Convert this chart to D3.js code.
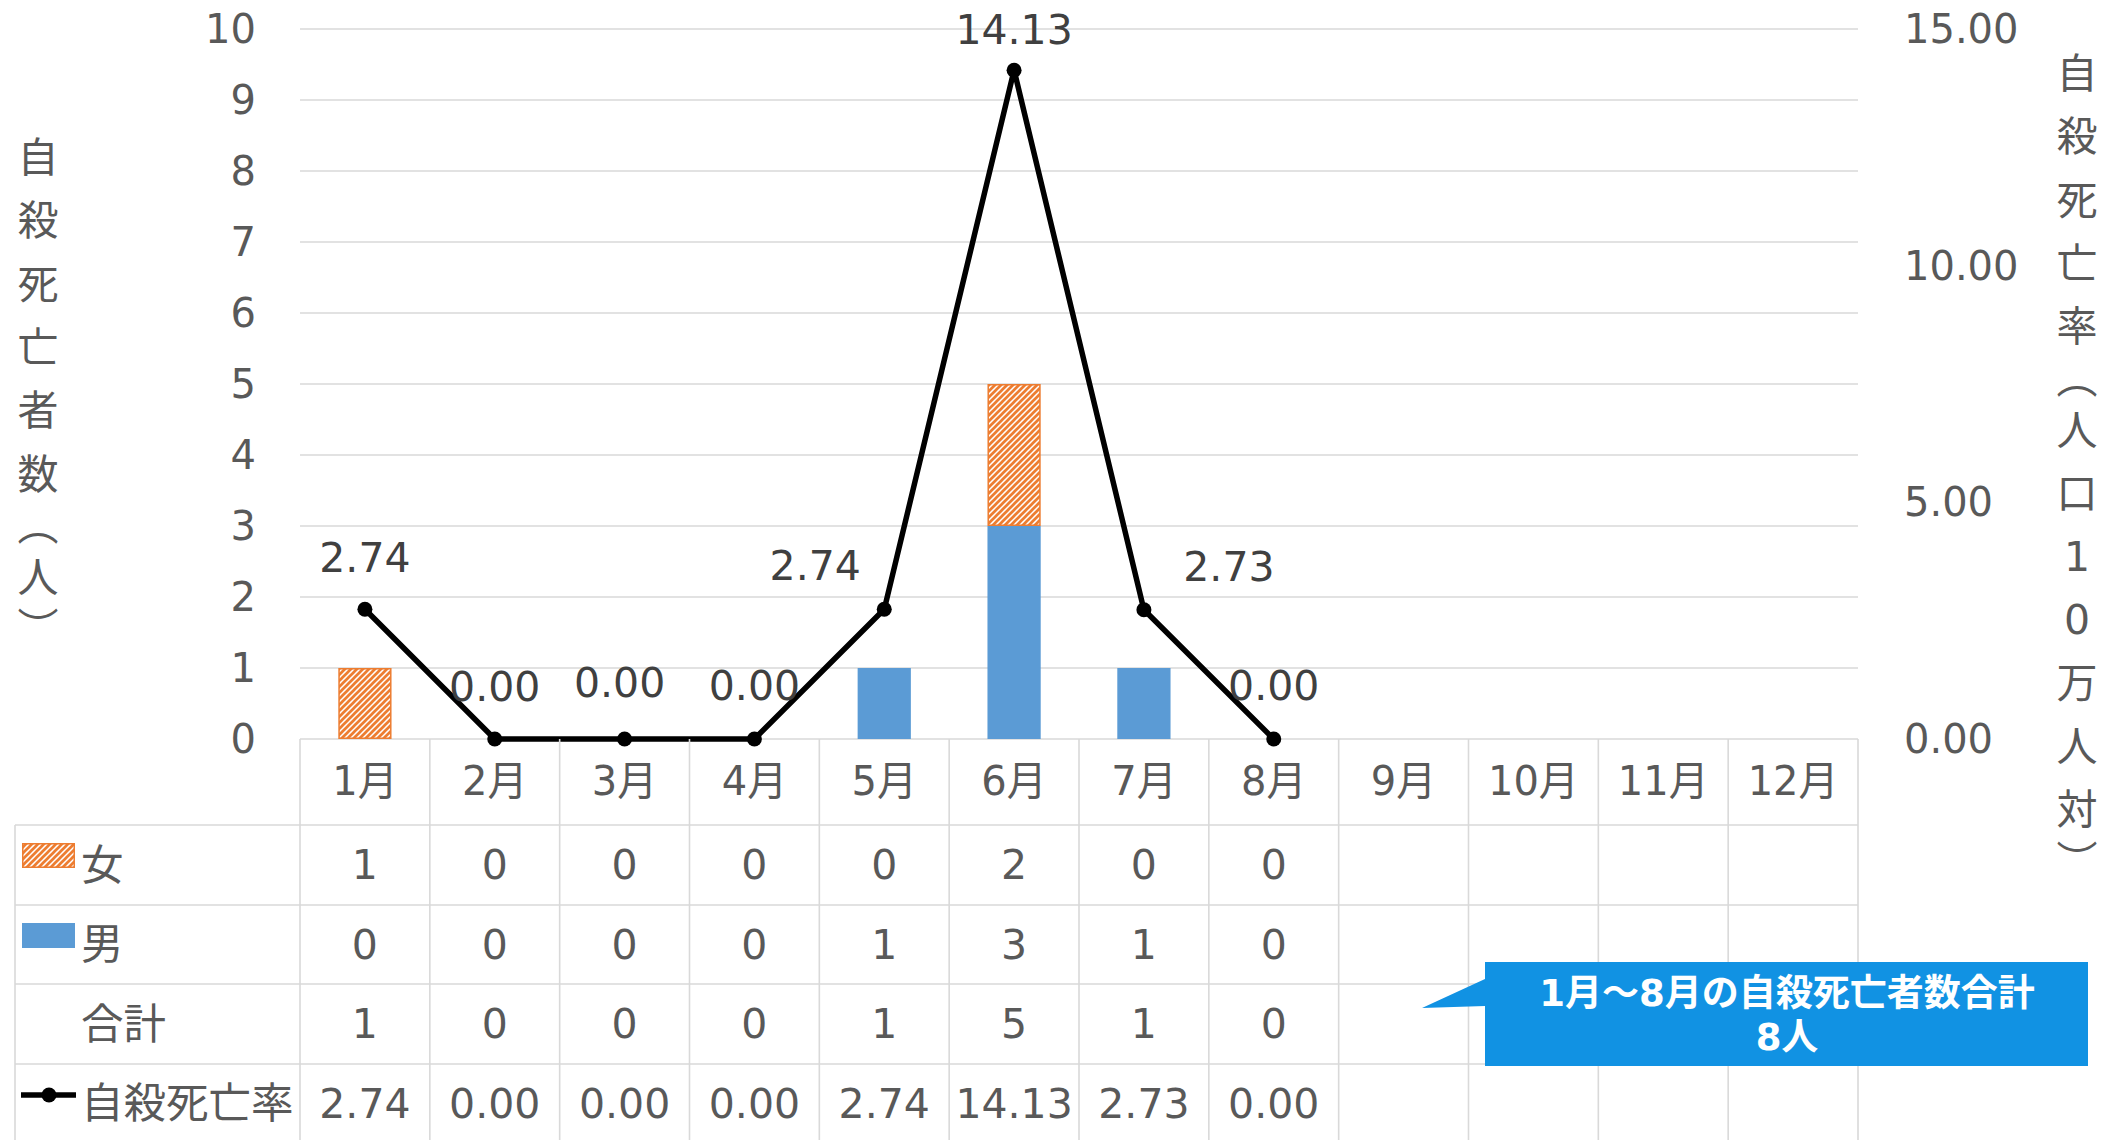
<!DOCTYPE html>
<html>
<head>
<meta charset="utf-8">
<script src="https://cdn.jsdelivr.net/npm/d3@7"></script>
<style>
  body { margin: 0; background: #fff; }
  svg { display: block; font-family: "DejaVu Sans", "Noto Sans CJK JP", sans-serif; }
</style>
</head>
<body>
<svg id="chart" width="2113" height="1140"></svg>
<script>
// data
const months = ["1月", "2月", "3月", "4月", "5月", "6月", "7月", "8月", "9月", "10月", "11月", "12月"];
const female = [1, 0, 0, 0, 0, 2, 0, 0, null, null, null, null];
const male = [0, 0, 0, 0, 1, 3, 1, 0, null, null, null, null];
const total = [1, 0, 0, 0, 1, 5, 1, 0, null, null, null, null];
const rate = [2.74, 0.00, 0.00, 0.00, 2.74, 14.13, 2.73, 0.00, null, null, null, null];
const leftTicks = [0, 1, 2, 3, 4, 5, 6, 7, 8, 9, 10];
const rightTicks = [0, 5, 10, 15];
const leftTitle = ["自", "殺", "死", "亡", "者", "数", "︵", "人", "︶"];
const rightTitle = ["自", "殺", "死", "亡", "率", "︵", "人", "口", "1", "0", "万", "人", "対", "︶"];
const calloutLines = ["1月～8月の自殺死亡者数合計", "8人"];

// label nudges (px) for the rate data labels, as moved in the original
const labelShift = [[0, -51], [0, -52], [-5, -56], [0, -53], [-69, -43], [0, -40], [85, -43], [0, -53]];

const orange = "#ED7D31", blue = "#5B9BD5", grid = "#D9D9D9";
const axisText = "#595959", labelText = "#404040";

const svg = d3.select("#chart");
const plotL = 300, plotR = 1858, plotT = 29, plotB = 739;

const x = d3.scaleBand().domain(months).range([plotL, plotR]);
const yL = d3.scaleLinear().domain([0, 10]).range([plotB, plotT]);
const yR = d3.scaleLinear().domain([0, 15]).range([plotB, plotT]);
const barW = x.bandwidth() * 0.41;

// hatch pattern for 女
const defs = svg.append("defs");
const pat = defs.append("pattern")
  .attr("id", "hatch").attr("patternUnits", "userSpaceOnUse")
  .attr("width", 6).attr("height", 6);
pat.append("rect").attr("width", 6).attr("height", 6).attr("fill", "#fff");
pat.append("path")
  .attr("d", "M-1,1 l2,-2 M0,6 l6,-6 M5,7 l2,-2")
  .attr("stroke", orange).attr("stroke-width", 2.7);

// gridlines
svg.append("g").selectAll("line")
  .data(leftTicks)
  .join("line")
  .attr("x1", plotL).attr("x2", plotR)
  .attr("y1", d => yL(d)).attr("y2", d => yL(d))
  .attr("stroke", grid).attr("stroke-width", 1.6);

// left axis labels
svg.append("g").selectAll("text")
  .data(leftTicks)
  .join("text")
  .attr("x", 256).attr("y", d => yL(d))
  .attr("text-anchor", "end").attr("dominant-baseline", "central")
  .attr("font-size", 40).attr("fill", axisText)
  .text(d => d);

// right axis labels
svg.append("g").selectAll("text")
  .data(rightTicks)
  .join("text")
  .attr("x", 1904).attr("y", d => yR(d))
  .attr("text-anchor", "start").attr("dominant-baseline", "central")
  .attr("font-size", 40).attr("fill", axisText)
  .text(d => d.toFixed(2));

// stacked vertical axis titles (one character per line, parens take a short cell)
function stackedTitle(chars, cx, startY) {
  const full = 63.3, paren = 40;
  let y = startY, prev = null;
  const pos = chars.map(c => {
    const h = (c === "︵" || c === "︶") ? paren : full;
    if (prev !== null) y += (prev + h) / 2;
    prev = h;
    return { c, y };
  });
  svg.append("g").selectAll("text")
    .data(pos)
    .join("text")
    .attr("x", cx).attr("y", d => d.y)
    .attr("text-anchor", "middle").attr("dominant-baseline", "central")
    .attr("font-size", 41).attr("fill", axisText)
    .text(d => d.c);
}
stackedTitle(leftTitle, 38, 158);
stackedTitle(rightTitle, 2077, 74);

// bars: 男 on the bottom, 女 stacked on top
const bars = svg.append("g");
months.forEach((m, i) => {
  const cx = x(m) + x.bandwidth() / 2;
  if (male[i]) {
    bars.append("rect")
      .attr("x", cx - barW / 2).attr("width", barW)
      .attr("y", yL(male[i])).attr("height", yL(0) - yL(male[i]))
      .attr("fill", blue);
  }
  if (female[i]) {
    const base = male[i] || 0;
    bars.append("rect")
      .attr("x", cx - barW / 2 + 0.75).attr("width", barW - 1.5)
      .attr("y", yL(base + female[i]) + 0.75).attr("height", yL(base) - yL(base + female[i]) - 1.5)
      .attr("fill", "url(#hatch)").attr("stroke", orange).attr("stroke-width", 1.5);
  }
});

// rate line
const pts = months.map((m, i) => ({ m, v: rate[i], i })).filter(d => d.v !== null);
const line = d3.line()
  .x(d => x(d.m) + x.bandwidth() / 2)
  .y(d => yR(d.v));
svg.append("path")
  .datum(pts)
  .attr("d", line)
  .attr("fill", "none").attr("stroke", "#000").attr("stroke-width", 5.5)
  .attr("stroke-linejoin", "round");
svg.append("g").selectAll("circle")
  .data(pts)
  .join("circle")
  .attr("cx", d => x(d.m) + x.bandwidth() / 2)
  .attr("cy", d => yR(d.v))
  .attr("r", 7.5).attr("fill", "#000");

// rate data labels
svg.append("g").selectAll("text")
  .data(pts)
  .join("text")
  .attr("x", d => x(d.m) + x.bandwidth() / 2 + labelShift[d.i][0])
  .attr("y", d => yR(d.v) + labelShift[d.i][1])
  .attr("text-anchor", "middle").attr("dominant-baseline", "central")
  .attr("font-size", 41).attr("fill", labelText)
  .text(d => d.v.toFixed(2));

// data table
const rowEdges = [739, 825, 905, 984, 1064, 1143];
const tableL = 15;
const tbl = svg.append("g");
tbl.selectAll("line.v")
  .data(d3.range(months.length + 1))
  .join("line")
  .attr("x1", i => plotL + i * x.step()).attr("x2", i => plotL + i * x.step())
  .attr("y1", rowEdges[0]).attr("y2", rowEdges[5])
  .attr("stroke", grid).attr("stroke-width", 1.6);
tbl.selectAll("line.h")
  .data(rowEdges.slice(1))
  .join("line")
  .attr("x1", tableL).attr("x2", plotR)
  .attr("y1", d => d).attr("y2", d => d)
  .attr("stroke", grid).attr("stroke-width", 1.6);
tbl.append("line")
  .attr("x1", tableL).attr("x2", tableL)
  .attr("y1", rowEdges[1]).attr("y2", rowEdges[5])
  .attr("stroke", grid).attr("stroke-width", 1.6);

// category labels
svg.append("g").selectAll("text")
  .data(months)
  .join("text")
  .attr("x", d => x(d) + x.bandwidth() / 2)
  .attr("y", (rowEdges[0] + rowEdges[1]) / 2 - 1)
  .attr("text-anchor", "middle").attr("dominant-baseline", "central")
  .attr("font-size", 40).attr("fill", axisText)
  .text(d => d);

const rows = [
  { name: "女", vals: female, fmt: d => d },
  { name: "男", vals: male, fmt: d => d },
  { name: "合計", vals: total, fmt: d => d },
  { name: "自殺死亡率", vals: rate, fmt: d => d.toFixed(2) }
];
rows.forEach((r, ri) => {
  const cy = (rowEdges[ri + 1] + rowEdges[ri + 2]) / 2;
  const g = svg.append("g");
  g.append("text")
    .attr("x", 81).attr("y", cy)
    .attr("dominant-baseline", "central")
    .attr("font-size", 42.5).attr("fill", axisText)
    .text(r.name);
  g.selectAll("text.v")
    .data(r.vals.map((v, i) => ({ v, m: months[i] })).filter(d => d.v !== null))
    .join("text")
    .attr("x", d => x(d.m) + x.bandwidth() / 2)
    .attr("y", cy)
    .attr("text-anchor", "middle").attr("dominant-baseline", "central")
    .attr("font-size", 41).attr("fill", axisText)
    .text(d => r.fmt(d.v));
});

// legend keys in the table
const key = svg.append("g");
key.append("rect").attr("x", 22.75).attr("y", 843.75).attr("width", 51.5).attr("height", 23.5)
  .attr("fill", "url(#hatch)").attr("stroke", orange).attr("stroke-width", 1.5);
key.append("rect").attr("x", 22).attr("y", 923).attr("width", 53).attr("height", 25)
  .attr("fill", blue);
key.append("line").attr("x1", 21).attr("x2", 76).attr("y1", 1095).attr("y2", 1095)
  .attr("stroke", "#000").attr("stroke-width", 5.5);
key.append("circle").attr("cx", 49).attr("cy", 1095).attr("r", 7.5).attr("fill", "#000");

// callout
const co = svg.append("g");
co.append("path")
  .attr("d", "M1485,962 H2088 V1066 H1485 V1006 L1422,1008 L1485,979 Z")
  .attr("fill", "#1192E3");
co.selectAll("text")
  .data(calloutLines)
  .join("text")
  .attr("x", 1787).attr("y", (d, i) => 993 + i * 44)
  .attr("text-anchor", "middle").attr("dominant-baseline", "central")
  .attr("font-size", 37).attr("font-weight", "bold").attr("fill", "#fff")
  .text(d => d);
</script>
</body>
</html>
